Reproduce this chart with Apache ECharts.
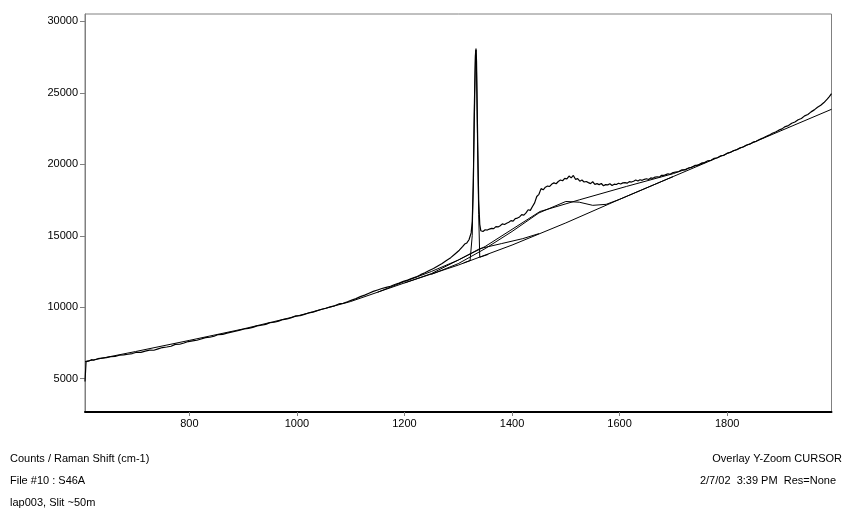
<!DOCTYPE html>
<html><head><meta charset="utf-8">
<script src="https://cdn.jsdelivr.net/npm/echarts@6/dist/echarts.min.js"></script>
<style>html,body{margin:0;padding:0;background:#fff}#c{width:860px;height:516px}</style>
</head><body><div id="c"></div>
<script>
// ---- data ----
const xTicks = [800, 1000, 1200, 1400, 1600, 1800];
const yTicks = [5000, 10000, 15000, 20000, 25000, 30000];
const footLeft = ["Counts / Raman Shift (cm-1)", "File #10 : S46A", "lap003, Slit ~50m"];
const footRight = ["Overlay Y-Zoom CURSOR", "2/7/02  3:39 PM  Res=None"];

const spectrum = [
[606,4800],[608,6200],[614,6250],[618,6330],[622,6290],[630,6400],[638,6440],[646,6470],[654,6540],[662,6560],
[670,6640],[678,6670],[686,6710],[694,6760],[702,6850],[710,6840],[718,6930],[726,7000],[734,6990],[742,7090],
[750,7180],[758,7220],[766,7270],[774,7400],[782,7410],[790,7500],[798,7600],[806,7650],[814,7690],[822,7780],
[830,7870],[838,7900],[846,7970],[854,8090],[862,8100],[870,8190],[878,8260],[886,8320],[894,8400],[902,8480],
[910,8520],[918,8590],[926,8700],[934,8740],[942,8800],[950,8920],[958,8950],[966,9030],[974,9140],[982,9180],
[990,9270],[998,9400],[1006,9410],[1014,9500],[1022,9600],[1030,9660],[1038,9760],[1046,9860],[1054,9930],[1062,10030],
[1070,10100],[1078,10230],[1086,10280],[1094,10380],[1102,10500],[1110,10600],[1118,10740],[1126,10850],[1134,10980],[1142,11110],
[1150,11210],[1158,11310],[1166,11390],[1174,11470],[1182,11590],[1190,11690],[1198,11810],[1206,11900],[1214,12020],[1222,12120],
[1230,12280],[1238,12410],[1246,12570],[1254,12710],[1262,12890],[1270,13060],[1278,13270],[1286,13470],[1294,13730],[1302,13990],
[1308,14240],[1312,14420],[1316,14500],[1320,14720],[1322,14850],[1324,15200],[1326,16000],[1328,18500],[1330,23500],[1332,27600],
[1333,28100],[1334,27200],[1336,22000],[1338,17500],[1340,15800],[1342,15350],[1346,15300],[1350,15420],[1354,15400],[1358,15470],
[1362,15520],[1366,15500],[1370,15640],[1374,15620],[1378,15700],[1382,15830],[1386,15790],[1390,15880],[1394,15950],[1398,16060],
[1402,16020],[1406,16200],[1410,16240],[1414,16320],[1418,16480],[1422,16450],[1426,16600],[1430,16820],[1434,16780],[1438,17050],
[1442,17300],[1446,17750],[1450,17900],[1454,18300],[1458,18220],[1462,18400],[1466,18480],[1470,18450],[1474,18620],[1478,18700],
[1482,18640],[1486,18800],[1490,18900],[1494,18850],[1498,19020],[1502,18980],[1506,19180],[1510,19050],[1514,19220],[1518,18950],
[1522,19000],[1526,18820],[1530,18900],[1534,18760],[1538,18800],[1542,18720],[1546,18650],[1550,18780],[1554,18600],[1558,18650],
[1562,18580],[1566,18660],[1570,18500],[1574,18580],[1578,18560],[1582,18640],[1586,18520],[1590,18610],[1594,18590],[1598,18680],
[1602,18620],[1606,18700],[1610,18720],[1614,18680],[1618,18790],[1622,18760],[1626,18820],[1630,18900],[1634,18830],[1638,18920],
[1642,18880],[1646,18950],[1650,18990],[1654,18940],[1658,19050],[1662,19020],[1666,19110],[1670,19130],[1674,19100],[1678,19230],
[1682,19220],[1686,19280],[1690,19340],[1694,19300],[1698,19400],[1704,19460],[1710,19500],[1716,19620],[1722,19610],[1728,19740],
[1734,19790],[1740,19920],[1746,19930],[1752,20080],[1758,20120],[1764,20250],[1770,20280],[1776,20420],[1782,20460],[1788,20600],
[1794,20630],[1800,20780],[1806,20830],[1812,20960],[1818,21020],[1824,21150],[1830,21210],[1836,21350],[1842,21410],[1848,21550],
[1854,21610],[1860,21740],[1866,21830],[1872,21950],[1878,22040],[1884,22170],[1890,22260],[1896,22390],[1902,22480],[1908,22640],
[1914,22710],[1920,22870],[1926,22960],[1932,23120],[1938,23210],[1944,23390],[1950,23490],[1956,23670],[1962,23810],[1968,23990],
[1974,24130],[1980,24320],[1986,24560],[1990,24740],[1994,24950]
];
const baseline = [[606,6200],[700,6900],[800,7680],[900,8480],[1000,9380],[1100,10400],[1200,11700],[1300,12950],[1400,14350],[1500,15900],[1600,17550],[1700,19150],[1800,20750],[1900,22350],[1994,23850]];
const peakFit = [[1310,13100],[1322,13270],[1325,13320],[1326,15000],[1328,19000],[1330,24500],[1332,27800],[1333,28000],[1334,26500],[1336,21000],[1338,16500],[1340,13500],[1341,13480],[1356,13700]];
const gBandFit = [[1250,12300],[1300,13050],[1350,14100],[1400,15300],[1450,16600],[1500,17400],[1525,17350],[1550,17130],[1575,17200],[1600,17550],[1625,17950],[1700,19150]];
const broadFit = [[1150,11050],[1200,11800],[1250,12500],[1300,13300],[1350,14250],[1400,15450],[1452,16700],[1526,17525],[1613,18455],[1700,19350],[1760,20150]];
const dBandFit = [[1200,11700],[1250,12350],[1300,13300],[1340,14100],[1380,14450],[1420,14800],[1450,15150]];

// ---- chart ----
const FONT = "Liberation Sans";
const chart = echarts.init(document.getElementById('c'), null, {renderer: 'canvas'});
function line(d, w) {
  return {type: 'line', data: d, showSymbol: false, symbol: 'none', animation: false,
          lineStyle: {color: '#000', width: w}, silent: true};
}
const texts = [];
footLeft.forEach((t, i) => texts.push({type: 'text', left: 10, top: 453 + i * 22,
  style: {text: t, font: '11px ' + FONT, fill: '#000'}}));
footRight.forEach((t, i) => texts.push({type: 'text', right: i === 0 ? 18 : 24, top: 453 + i * 22,
  style: {text: t, font: '11px ' + FONT, fill: '#000'}}));

chart.setOption({
  backgroundColor: '#fff',
  animation: false,
  grid: {left: 85, right: 28.5, top: 14, bottom: 104, show: true, borderColor: '#808080', borderWidth: 1, backgroundColor: '#fff'},
  xAxis: {type: 'value', min: 606, max: 1994,
    axisLine: {show: true, lineStyle: {color: '#000', width: 2}},
    axisTick: {show: true, length: 4, lineStyle: {color: '#808080'}, customValues: xTicks},
    axisLabel: {customValues: xTicks, color: '#000', fontFamily: FONT, fontSize: 11, margin: 6, formatter: v => String(v)},
    splitLine: {show: false}},
  yAxis: {type: 'value', min: 2670, max: 30518,
    axisLine: {show: true, lineStyle: {color: '#808080', width: 1}},
    axisTick: {show: true, length: 5, lineStyle: {color: '#808080'}, customValues: yTicks},
    axisLabel: {customValues: yTicks, color: '#000', fontFamily: FONT, fontSize: 11, margin: 7, formatter: v => String(v)},
    splitLine: {show: false}},
  series: [line(baseline, 1), line(dBandFit, 1), line(gBandFit, 1), line(broadFit, 1), line(peakFit, 1), line(spectrum, 1.2)],
  graphic: texts
});
</script></body></html>
